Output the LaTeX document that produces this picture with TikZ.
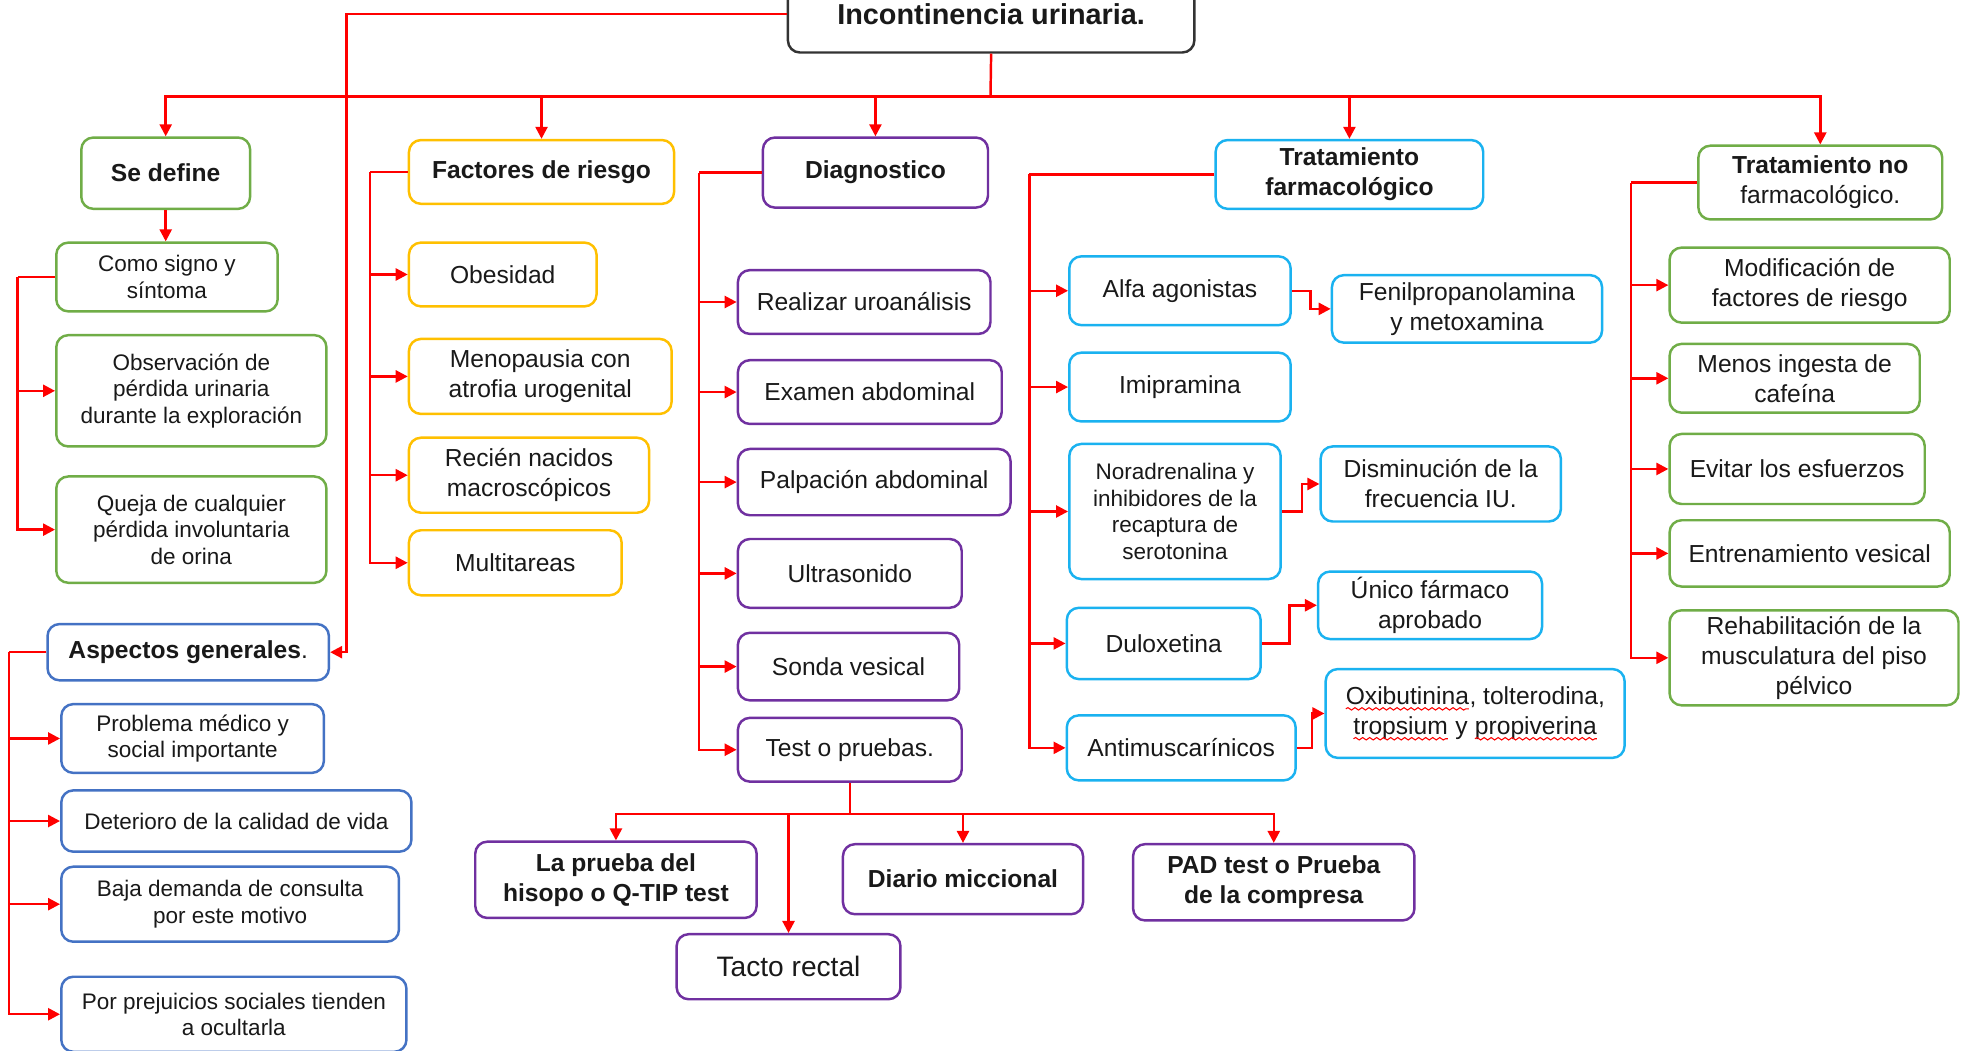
\documentclass[tikz,border=0pt]{standalone}
\usepackage{fontspec}
\setmainfont{Liberation Sans}
\usetikzlibrary{arrows.meta,decorations.pathmorphing}

\definecolor{cverde}{HTML}{70AD47}
\definecolor{camarillo}{HTML}{FFC000}
\definecolor{cmorado}{HTML}{7030A0}
\definecolor{ccian}{HTML}{1AB2F0}
\definecolor{cazul}{HTML}{4472C4}

\newcommand\txtn{\fontsize{7}{8.5}\selectfont}
\newcommand\txts{\fontsize{6.4}{7.5}\selectfont}
\newcommand\txtb{\fontsize{7}{8.5}\selectfont\bfseries}
% subrayado ondulado rojo
\newcommand\ondarojo[1]{\tikz[baseline=(w.base)]{%
  \node[draw=none, fill=none, inner sep=0pt, outer sep=0pt, minimum width=0pt,
    minimum height=0pt, text=black!90] (w) {#1};
  \draw[red, line width=0.3pt, sharp corners, decorate,
    decoration={snake, amplitude=0.35pt, segment length=0.7mm}]
    ([yshift=-1.3pt]w.base west) -- ([yshift=-1.3pt]w.base east);}}

\begin{document}
\begin{tikzpicture}[x=0.0125cm, y=-0.0125cm,
    >={Triangle[length=1.2mm,width=1.2mm]},
    caja/.style={draw, rounded corners=1.2mm, line width=0.7pt, align=center,
      fill=white, inner sep=1pt, text=black!90, font=\txtn},
    sz/.style 2 args={minimum width=#1*0.0125cm, minimum height=#2*0.0125cm},
    letras/.style={font=\txts},
    letrab/.style={font=\txtb},
    verde/.style={caja, draw=cverde},
    amarillo/.style={caja, draw=camarillo},
    morado/.style={caja, draw=cmorado},
    cian/.style={caja, draw=ccian},
    azul/.style={caja, draw=cazul},
    conector/.style={draw=red, line width=0.7pt}]
  \path[use as bounding box, fill=white] (0,0) rectangle (1568,840);

  % raiz
  \node[caja, draw=black!80, sz={325}{62}, font=\fontsize{8.2}{9}\selectfont\bfseries] (IU) at (792.5,11) {Incontinencia urinaria.};

  % se define
  \node[verde, sz={135}{57}, letrab] (SD) at (132.5,138.5) {Se define};
  \node[verde, sz={177}{55}, letras] (CS) at (133.5,221.5) {Como signo y\\síntoma};
  \node[verde, sz={216}{89}, letras] (OB) at (153,312.5) {Observación de\\pérdida urinaria\\durante la exploración};
  \node[verde, sz={216}{85}, letras] (QJ) at (153,423.5) {Queja de cualquier\\pérdida involuntaria\\de orina};

  % factores de riesgo
  \node[amarillo, sz={212}{51}, letrab] (FR) at (433,137.5) {Factores de riesgo};
  \node[amarillo, sz={150}{51}] (F1) at (402,219.5) {Obesidad};
  \node[amarillo, sz={210}{60}] (F2) at (432,301) {Menopausia con\\atrofia urogenital};
  \node[amarillo, sz={192}{60}] (F3) at (423,380) {Recién nacidos\\macroscópicos};
  \node[amarillo, sz={170}{52}] (F4) at (412,450) {Multitareas};

  % diagnostico
  \node[morado, sz={180}{56}, letrab] (DX) at (700,138) {Diagnostico};
  \node[morado, sz={202}{51}] (D1) at (691,241.5) {Realizar uroanálisis};
  \node[morado, sz={211}{51}] (D2) at (695.5,313.5) {Examen abdominal};
  \node[morado, sz={218}{53}] (D3) at (699,385.5) {Palpación abdominal};
  \node[morado, sz={179}{55}] (D4) at (679.5,458.5) {Ultrasonido};
  \node[morado, sz={177}{54}] (D5) at (678.5,533) {Sonda vesical};
  \node[morado, sz={179}{51}] (D6) at (679.5,599.5) {Test o pruebas.};
  \node[morado, sz={225}{61}, letrab] (T1) at (492.5,703.5) {La prueba del\\hisopo o Q-TIP test};
  \node[morado, sz={179}{52}, font=\fontsize{8}{9}\selectfont] (T2) at (630.5,773) {Tacto rectal};
  \node[morado, sz={192}{56}, letrab] (T3) at (770,703) {Diario miccional};
  \node[morado, sz={225}{61}, letrab] (T4) at (1018.5,705.5) {PAD test o Prueba\\de la compresa};

  % tratamiento farmacologico
  \node[cian, sz={214}{55}, letrab] (TF) at (1079,139.5) {Tratamiento\\farmacológico};
  \node[cian, sz={177}{55}] (A1) at (943.5,232.5) {Alfa agonistas};
  \node[cian, sz={177}{55}] (A2) at (943.5,309.5) {Imipramina};
  \node[cian, sz={169}{108}, letras] (A3) at (939.5,409) {Noradrenalina y\\inhibidores de la\\recaptura de\\serotonina};
  \node[cian, sz={155}{57}] (A4) at (930.5,514.5) {Duloxetina};
  \node[cian, sz={183}{52}] (A5) at (944.5,598) {Antimuscarínicos};
  \node[cian, sz={216}{54}] (B1) at (1173,247) {Fenilpropanolamina\\y metoxamina};
  \node[cian, sz={192}{60}] (B3) at (1152,387) {Disminución de la\\frecuencia IU.};
  \node[cian, sz={179}{54}] (B4) at (1143.5,484) {Único fármaco\\aprobado};
  \node[cian, sz={239}{71}] (B5) at (1179.5,570.5) {\ondarojo{Oxibutinina}, tolterodina,\\\ondarojo{tropsium} y \ondarojo{propiverina}};

  % tratamiento no farmacologico
  \node[verde, sz={195}{59}] (TN) at (1455.5,146) {\textbf{Tratamiento no}\\farmacológico.};
  \node[verde, sz={224}{60}] (N1) at (1447,228) {Modificación de\\factores de riesgo};
  \node[verde, sz={200}{55}] (N2) at (1435,302.5) {Menos ingesta de\\cafeína};
  \node[verde, sz={204}{56}] (N3) at (1437,375) {Evitar los esfuerzos};
  \node[verde, sz={224}{53}] (N4) at (1447,442.5) {Entrenamiento vesical};
  \node[verde, sz={231}{76}] (N5) at (1450.5,526) {Rehabilitación de la\\musculatura del piso\\pélvico};

  % aspectos generales
  \node[azul, sz={225}{45}] (AG) at (150.5,521.5) {\textbf{Aspectos generales}.};
  \node[azul, sz={210}{55}, letras] (G1) at (154,590.5) {Problema médico y\\social importante};
  \node[azul, sz={280}{49}, letras] (G2) at (189,656.5) {Deterioro de la calidad de vida};
  \node[azul, sz={270}{60}, letras] (G3) at (184,723) {Baja demanda de consulta\\por este motivo};
  \node[azul, sz={276}{60}, letras] (G4) at (187,811) {Por prejuicios sociales tienden\\a ocultarla};

  % conectores
  \draw[conector, ->] (IU.west) -- ++(-352,0) |- (AG.east);
  \draw[conector] (IU.south) -- (792,77) coordinate (b0);
  \foreach \n in {SD,FR,DX,TF,TN}
    \draw[conector, ->] (b0) -| (\n.north);
  \draw[conector, ->] (SD.south) -- (SD.south |- CS.north);

  \draw[conector] (CS.west) -- ++(-30,0) coordinate (c1);
  \foreach \n in {OB,QJ}
    \draw[conector, ->] (c1) |- (\n.west);
  \draw[conector] (FR.west) -- ++(-30,0) coordinate (c2);
  \foreach \n in {F1,F2,F3,F4}
    \draw[conector, ->] (c2) |- (\n.west);
  \draw[conector] (DX.west) -- ++(-50,0) coordinate (c3);
  \foreach \n in {D1,D2,D3,D4,D5,D6}
    \draw[conector, ->] (c3) |- (\n.west);
  \draw[conector] (TF.west) -- ++(-148,0) coordinate (c4);
  \foreach \n in {A1,A2,A3,A4,A5}
    \draw[conector, ->] (c4) |- (\n.west);
  \draw[conector] (TN.west) -- ++(-53,0) coordinate (c5);
  \foreach \n in {N1,N2,N3,N4,N5}
    \draw[conector, ->] (c5) |- (\n.west);
  \draw[conector] (AG.west) -- ++(-30,0) coordinate (c6);
  \foreach \n in {G1,G2,G3,G4}
    \draw[conector, ->] (c6) |- (\n.west);

  \draw[conector] (D6.south) -- ++(0,25) coordinate (b1);
  \foreach \n in {T1,T2,T3,T4}
    \draw[conector, ->] (b1) -| (\n.north);

  \draw[conector, ->] (A1.east) -- ++(15,0) |- (B1.west);
  \draw[conector, ->] (A3.east) -- ++(16,0) |- (B3.west);
  \draw[conector, ->] (A4.east) -- ++(22,0) |- (B4.west);
  \draw[conector, ->] (A5.east) -- ++(12,0) |- (B5.west);
\end{tikzpicture}
\end{document}
